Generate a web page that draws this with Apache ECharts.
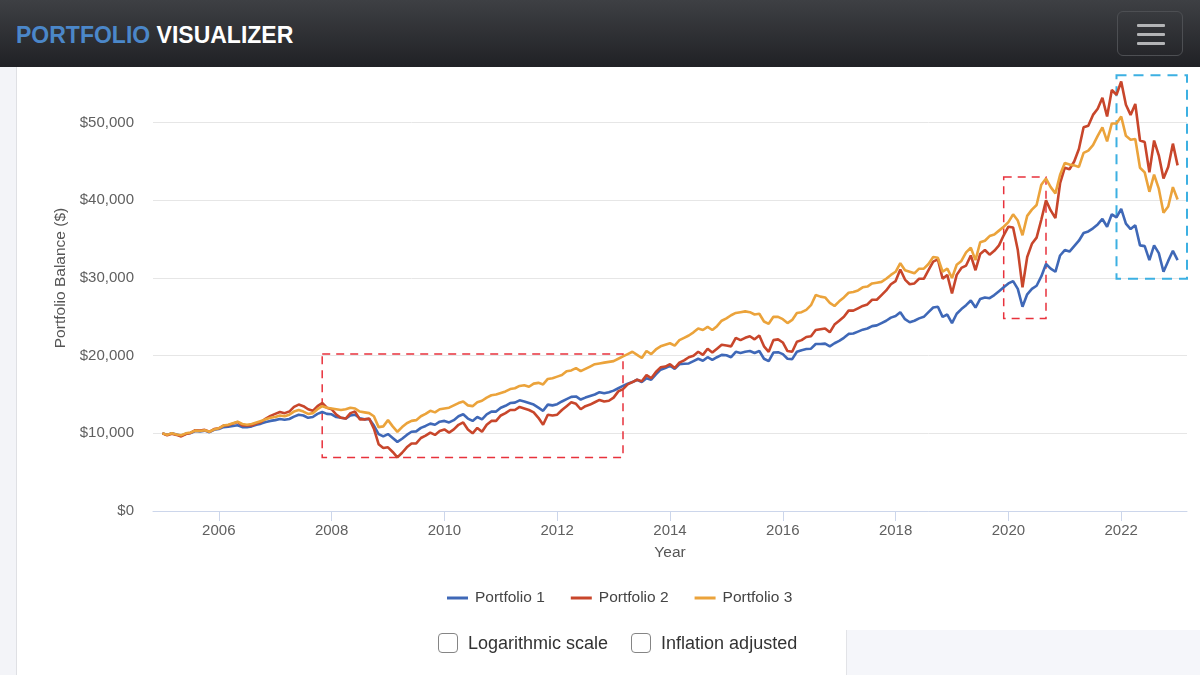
<!DOCTYPE html>
<html>
<head>
<meta charset="utf-8">
<script src="https://cdn.jsdelivr.net/npm/echarts@6/dist/echarts.min.js"></script>
<style>
html,body{margin:0;padding:0;width:1200px;height:675px;overflow:hidden;background:#fff;font-family:"Liberation Sans",Arial,sans-serif}
#gutter{position:absolute;left:0;top:0;width:16px;height:675px;background:#f3f4f8;border-right:1px solid #dfe0e4}
#panel{position:absolute;left:846px;top:630px;width:354px;height:45px;background:#f5f6fa;border-left:1px solid #e2e3e7}
#chart{position:absolute;left:0;top:0;width:1200px;height:675px}
#header{position:absolute;left:0;top:0;width:1200px;height:67px;background:linear-gradient(#3e4044,#202125);z-index:5}
#brand{position:absolute;left:16px;top:24px;font:bold 23px/23px "Liberation Sans",Arial,sans-serif;white-space:nowrap}
#brand .a{color:#4b87c9}
#brand .b{color:#fff}
#menu{position:absolute;left:1117px;top:11px;width:66px;height:45px;border:1px solid #4d4f53;border-radius:6px;box-sizing:border-box}
#menu span{position:absolute;left:19px;width:28px;height:3px;background:#b3b4b6;border-radius:1px}
.opts{position:absolute;top:630px;left:438px;display:flex;align-items:center;height:26px;font-size:18px;color:#333;z-index:4}
.box{width:18px;height:18px;border:1.5px solid #858585;border-radius:4px;margin-right:10px;background:#fff}
.lab{margin-right:23px;white-space:nowrap}
</style>
</head>
<body>
<div id="gutter"></div>
<div id="panel"></div>
<div id="chart"></div>
<div id="header">
  <div id="brand"><span class="a">PORTFOLIO</span> <span class="b">VISUALIZER</span></div>
  <div id="menu"><span style="top:12px"></span><span style="top:21px"></span><span style="top:30px"></span></div>
</div>
<div class="opts"><div class="box"></div><div class="lab">Logarithmic scale</div><div class="box"></div><div class="lab">Inflation adjusted</div></div>
<script>
// Monthly balances: initial balance (Jan 2005) then month-end values through Dec 2022
const seriesNames = ['Portfolio 1', 'Portfolio 2', 'Portfolio 3'];
const tickYears = ['2006','2008','2010','2012','2014','2016','2018','2020','2022'];

const portfolio1 = [10000,
 9800,10000,9850,9700,9950,10050,10300,10250,10350,10150,10450,10550,
 10800,10850,10950,11050,10800,10800,10900,11100,11250,11450,11600,11700,
 11850,11750,11850,12150,12400,12300,12000,12100,12500,12750,12500,12450,
 12100,12000,11900,12300,12400,11950,11800,11850,11000,9900,9600,9900,
 9400,8900,9300,9800,10200,10250,10700,10950,11250,11100,11500,11600,
 11400,11700,12200,12450,11900,11600,12100,11800,12450,12800,12800,13300,
 13550,13900,13950,14250,14100,13900,13700,13300,12900,13700,13600,13750,
 14100,14400,14700,14750,14350,14600,14800,15000,15300,15150,15300,15500,
 15800,16100,16400,16600,16900,16600,17100,16900,17600,18200,18400,18700,
 18300,18900,18950,19000,19300,19600,19350,19800,19450,19800,20100,20050,
 19800,20500,20350,20500,20600,20350,20600,19600,19300,20400,20450,20200,
 19600,19550,20500,20700,20850,20900,21500,21500,21550,21200,21600,21900,
 22300,22800,22850,23100,23350,23500,23800,23900,24200,24500,24900,25100,
 25600,24700,24300,24500,24800,25000,25600,26200,26300,25000,25300,24200,
 25400,26000,26500,27100,26200,27300,27500,27400,27800,28300,28800,29300,
 29600,28600,26300,27900,28600,29000,30200,31800,31200,30800,32900,33600,
 33400,34100,34800,35800,36000,36400,36900,37600,36600,38200,37800,38900,
 37000,36300,36800,34200,34100,32300,34200,33200,30800,32200,33500,32300];

const portfolio2 = [10000,
 9750,9950,9800,9600,9900,10050,10400,10350,10450,10200,10550,10650,
 11000,11050,11250,11450,11000,11000,11000,11250,11450,11900,12250,12500,
 12750,12600,12800,13400,13700,13500,13100,12900,13500,13900,13300,13100,
 12400,12000,11900,12600,12800,11800,11800,11900,10600,8600,8100,8200,
 7600,6900,7500,8200,8700,8700,9400,9700,10100,9800,10300,10500,
 10100,10500,11100,11400,10500,10000,10700,10200,11100,11600,11600,12300,
 12600,13000,13000,13400,13200,13000,12700,12000,11100,12400,12300,12400,
 13000,13500,14000,13800,13100,13500,13700,14000,14300,14100,14200,14600,
 15400,15700,16300,16600,16900,16700,17500,17100,17900,18500,18600,18900,
 18400,19100,19400,19800,20000,20500,20100,20900,20400,20900,21400,21300,
 21200,22300,22000,22300,22500,22100,22600,21200,20500,22000,22100,21700,
 20600,20500,21800,22000,22400,22500,23300,23400,23500,23000,24000,24500,
 25000,25800,25800,26100,26400,26600,27200,27200,27800,28400,29200,29600,
 31100,29800,29200,29300,29900,29900,31000,32100,32400,29900,30400,28000,
 30400,31300,31600,32900,31000,33100,33600,33000,33500,34200,35500,36600,
 36500,33600,28800,32700,34400,35200,37500,40000,38700,37700,42200,44200,
 44000,45000,46600,49400,49600,51000,51800,53200,50800,54200,53600,55300,
 52300,51000,52400,47700,47500,43600,47700,45800,42800,44300,47300,44500];

const portfolio3 = [10000,
 9800,10000,9850,9750,10000,10100,10350,10300,10400,10200,10500,10650,
 11000,11100,11300,11500,11200,11100,11200,11400,11600,11800,12000,12100,
 12300,12200,12400,12800,13000,12800,12500,12600,13100,13500,13300,13200,
 13100,13000,13100,13300,13200,12800,12700,12600,12200,10800,10900,11700,
 10900,10200,10800,11300,11600,11700,12200,12500,12900,12700,13100,13200,
 13300,13600,13900,14100,13600,13500,14000,14200,14600,14900,15000,15200,
 15400,15700,15800,16100,16200,16000,16400,16500,16300,17000,17100,17300,
 17500,18000,18100,18400,18000,18300,18600,18900,19000,19100,19200,19300,
 19600,19900,20200,20500,20100,19700,20600,20200,20800,21200,21400,21600,
 21300,22000,22300,22600,23000,23500,23300,23700,23300,23800,24500,24800,
 25200,25500,25600,25700,25600,25300,25400,24400,24100,25000,25000,24700,
 24200,24600,25500,25600,25900,26500,27800,27600,27500,26800,26400,27000,
 27500,28100,28200,28400,28800,28900,29300,29400,29500,29900,30400,30800,
 31900,31000,30800,30600,31200,31200,31800,32700,32600,30800,31200,30000,
 31700,32200,33300,33900,32300,34600,34800,35400,35600,36100,36600,37200,
 38200,37400,35500,38000,38800,39400,42000,42800,41700,40900,43300,44800,
 44600,44500,44300,46100,46400,47100,48300,49400,47600,49900,49900,50800,
 48300,47800,47900,44200,43600,41100,43300,41500,38400,39200,41700,40100];

// Monthly category axis, padded by two months each side of the data (Nov 2004 .. Mar 2023)
const months = [];
for (let y = 2004, m = 11; !(y === 2023 && m === 4); ) {
  months.push(y + '-' + String(m).padStart(2, '0'));
  m++; if (m > 12) { m = 1; y++; }
}
const pad = (arr) => [null, null].concat(arr, [null, null]);

// Highlight boxes (category, value)
const box1 = [['2007-11', 20200], ['2013-03', 6900]];
const box2 = [['2019-12', 43000], ['2020-09', 24800]];
const box3 = [['2021-12', 56100], ['2023-03', 29900]];

const isTick = (i, v) => v.slice(5) === '01' && tickYears.indexOf(v.slice(0, 4)) >= 0;
const colors = ['#3f68b7', '#c8462b', '#eba33b'];

const chart = echarts.init(document.getElementById('chart'), null, { renderer: 'canvas' });
const mk = (pts, color, width, dash) => [{ coord: pts[0], itemStyle: { color: 'rgba(0,0,0,0)', borderColor: color, borderWidth: width, borderType: dash } }, { coord: pts[1] }];

chart.setOption({
  animation: false,
  color: colors,
  textStyle: { fontFamily: '"Liberation Sans", Arial, sans-serif' },
  grid: { left: 153, right: 13, top: 45, bottom: 164 },
  legend: {
    data: seriesNames, top: 585, left: 442,
    icon: 'rect', itemWidth: 21, itemHeight: 3, itemGap: 26,
    textStyle: { fontSize: 15.5, color: '#444', padding: [0, 0, 0, 2] }
  },
  xAxis: {
    type: 'category', data: months, boundaryGap: false,
    name: 'Year', nameLocation: 'middle', nameGap: 34,
    nameTextStyle: { fontSize: 15.5, color: '#555' },
    axisLine: { lineStyle: { color: '#ccd6eb' } },
    axisTick: { interval: isTick, length: 10, lineStyle: { color: '#ccd6eb' } },
    axisLabel: { interval: isTick, formatter: (v) => v.slice(0, 4), fontSize: 15, color: '#606060', margin: 12 },
    splitLine: { show: false }
  },
  yAxis: {
    type: 'value', min: 0, max: 60000, interval: 10000,
    name: 'Portfolio Balance ($)', nameLocation: 'middle', nameGap: 77, nameRotate: 90,
    nameTextStyle: { fontSize: 15.5, color: '#555' },
    axisLine: { show: false }, axisTick: { show: false },
    axisLabel: { formatter: (v) => '$' + v.toLocaleString('en-US'), fontSize: 15, color: '#606060', margin: 19 },
    splitLine: { lineStyle: { color: '#e6e6e6' } }
  },
  series: [
    { name: seriesNames[0], type: 'line', data: pad(portfolio1), showSymbol: false, symbol: 'none', lineStyle: { width: 2.6 }, z: 2, clip: false,
      markArea: { silent: true, label: { show: false }, data: [
        mk(box1, '#e8323c', 1.5, [8, 6]),
        mk(box2, '#e8323c', 1.5, [8, 6]),
        mk(box3, '#3cb0e2', 2, [10, 7])
      ] } },
    { name: seriesNames[1], type: 'line', data: pad(portfolio2), showSymbol: false, symbol: 'none', lineStyle: { width: 2.6 }, z: 3 },
    { name: seriesNames[2], type: 'line', data: pad(portfolio3), showSymbol: false, symbol: 'none', lineStyle: { width: 2.6 }, z: 4 }
  ]
});
</script>
</body>
</html>
